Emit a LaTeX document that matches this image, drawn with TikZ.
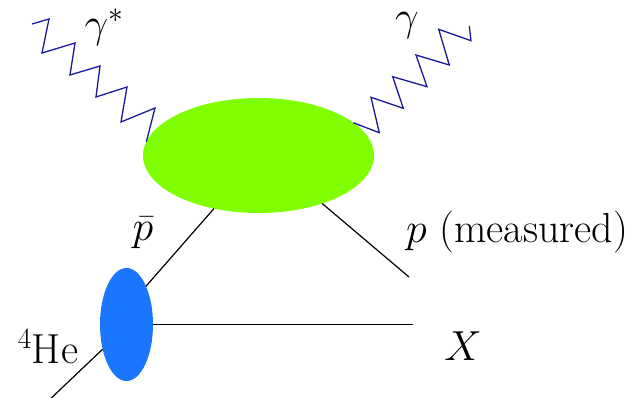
\RequirePackage{fix-cm}
\documentclass[tikz,border=0pt]{standalone}
\usetikzlibrary{shapes.geometric}
\definecolor{blobgreen}{HTML}{80FF00}
\definecolor{heblue}{HTML}{1A75FF}
\definecolor{photonblue}{HTML}{1A1A99}
\begin{document}
\begin{tikzpicture}[x=1pt,y=-1pt,
  blobstyle/.style={ellipse, fill=blobgreen, draw=none, inner sep=0pt, outer sep=0pt},
  hestyle/.style={ellipse, fill=heblue, draw=none, inner sep=0pt, outer sep=0pt},
  photon/.style={draw=photonblue, line width=1.3pt, line join=miter},
  leg/.style={draw=black, line width=1.2pt},
  lbl/.style={inner sep=0pt, font=\fontsize{42}{48}\selectfont}]
\useasboundingbox (0,0) rectangle (636,398);
\node[blobstyle, minimum width=231pt, minimum height=115pt] (blob) at (258.5,155.5) {};
\node[hestyle, minimum width=53pt, minimum height=113pt] (he) at (126.5,324.5) {};
% photons
\coordinate (gs) at (32,24);
\coordinate (ge) at (469.3,26);
\draw[photon] (gs) -- (49,19) -- (42,53) -- (75,43) -- (70,75) -- (100,66) -- (96,97) -- (127,87) -- (121,122) -- (155,108) -- (blob.173);
\draw[photon] (blob.19.5) -- (379.3,132.7) -- (371,97.3) -- (403.3,108.3) -- (392.7,76.7) -- (427,86.7) -- (416,55) -- (449.3,65) -- (438.7,29.3) -- (471,40.7) -- (ge);
% legs
\coordinate (hein) at (45,404);
\coordinate (xend) at (413,324.5);
\coordinate (pend) at (409,277);
\draw[leg] (hein) -- (he.226);
\draw[leg] (he.63) -- (blob.230);
\draw[leg] (he.east) -- (xend);
\draw[leg] (blob.-37.7) -- (pend);
% labels
\node[lbl] (lgs) at (104,27) {$\gamma^*$};
\node[lbl] (lg) at (407,26) {$\gamma$};
\node[lbl] (lpb) at (143,233) {$\bar p$};
\node[lbl] (lhe) at (48,347) {$^4$He};
\node[lbl] (lp) at (517,232) {$p$ (measured)};
\node[lbl] (lx) at (463,346) {$X$};
\end{tikzpicture}
\end{document}
